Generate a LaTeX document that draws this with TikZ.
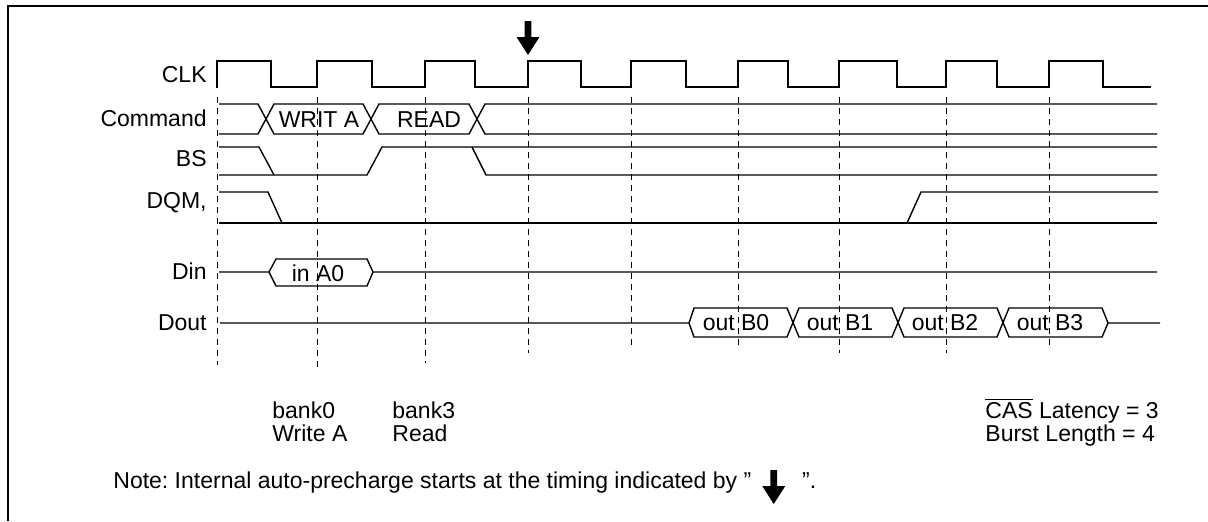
\documentclass[tikz,border=0pt]{standalone}
\usepackage{fontspec}
\setmainfont{Liberation Sans}
\usetikzlibrary{calc,positioning}
\definecolor{fg}{HTML}{000000}
\definecolor{bg}{HTML}{FFFFFF}
\tikzset{
  wave/.style={draw=fg, line width=0.7pt, line join=miter},
  tick/.style={draw=fg, line width=0.5pt, dash pattern=on 3pt off 2.5pt},
  lbl/.style={inner sep=0pt, text=fg, font=\fontsize{11.5}{13.8}\selectfont\frenchspacing},
  prechg/.pic={\fill[fg] (-3.3,0) -- (3.3,0) -- (3.3,16) -- (11.5,16) -- (0,34) -- (-11.5,16) -- (-3.3,16) -- cycle;}
}

\begin{document}
\begin{tikzpicture}[x=0.5pt, y=-0.5pt]
  \useasboundingbox[fill=bg] (0,0) rectangle (1208,521);
  \draw[draw=fg, line width=1.3pt] (8,521) -- (8,6) -- (1208,6);

  % signal names
  \node[lbl, anchor=base east] (nclk) at (207,82)  {CLK};
  \node[lbl, anchor=base east] (ncmd) at (207,126) {Command};
  \node[lbl, anchor=base east] (nbs)  at (207,166) {BS};
  \node[lbl, anchor=base east] (ndqm) at (207,208) {DQM,};
  \node[lbl, anchor=base east] (ndin) at (207,279) {Din};
  \node[lbl, anchor=base east] (ndout) at (207,330) {Dout};

  % clock edges
  \draw[tick] (217,97) -- (217,365);
  \draw[tick] (317,97) -- (317,370);
  \draw[tick] (425,97) -- (425,363);
  \draw[tick] (528,97) -- (528,353);
  \draw[tick] (631,97) -- (631,350);
  \draw[tick] (738,97) -- (738,350);
  \draw[tick] (839,97) -- (839,353);
  \draw[tick] (946,97) -- (946,353);
  \draw[tick] (1049,97) -- (1049,350);

  \pic at (528,21) {prechg};

  % CLK
  \draw[wave] (217,88) -- (217,61) -- (271,61) -- (271,87) -- (317,87) -- (317,61) -- (372,61) -- (372,87)
    -- (425,87) -- (425,61) -- (475,61) -- (475,87) -- (528,87) -- (528,61) -- (581,61) -- (581,87)
    -- (631,87) -- (631,61) -- (686,61) -- (686,87) -- (738,87) -- (738,61) -- (788,61) -- (788,87)
    -- (839,87) -- (839,61) -- (897,61) -- (897,87) -- (946,87) -- (946,61) -- (997,61) -- (997,87)
    -- (1049,87) -- (1049,61) -- (1103,61) -- (1103,87) -- (1151,87);

  % Command
  \draw[wave] (219,104) -- (258,104) -- (274,134) -- (363,134) -- (379,104) -- (469,104) -- (485,134) -- (1157,134);
  \draw[wave] (219,134) -- (258,134) -- (274,104) -- (363,104) -- (379,134) -- (469,134) -- (485,104) -- (1157,104);
  \node[lbl, anchor=base] (cwrite) at (319,127) {WRIT A};
  \node[lbl, anchor=base] (cread)  at (429,127) {READ};

  % BS
  \draw[wave] (219,147) -- (259,147) -- (274,175);
  \draw[wave] (219,175) -- (367,175) -- (382,147) -- (1157,147);
  \draw[wave] (472,147) -- (486,175) -- (1157,175);

  % DQM
  \draw[wave] (219,192) -- (268,192) -- (282,223);
  \draw[wave] (219,223) -- (1157,223);
  \draw[wave] (907,223) -- (921,192) -- (1158,192);

  % Din
  \draw[wave] (219,272) -- (269,272) -- (276,259) -- (367,259) -- (373,272) -- (1157,272);
  \draw[wave] (269,272) -- (276,286) -- (367,286) -- (373,272);
  \node[lbl, anchor=base] (din0) at (318,281) {in A0};

  % Dout
  \draw[wave] (220,323) -- (689,323) -- (694,308) -- (787,308) -- (799,337) -- (892,337) -- (904,308)
    -- (997,308) -- (1009,337) -- (1102,337) -- (1108,323) -- (1160,323);
  \draw[wave] (689,323) -- (694,337) -- (787,337) -- (799,308) -- (892,308) -- (904,337)
    -- (997,337) -- (1009,308) -- (1102,308) -- (1108,323);
  \node[lbl, anchor=base] (dout0) at (736,330) {out B0};
  \node[lbl, anchor=base] (dout1) at (840,330) {out B1};
  \node[lbl, anchor=base] (dout2) at (945,330) {out B2};
  \node[lbl, anchor=base] (dout3) at (1050,330) {out B3};

  % notes
  \node[lbl, anchor=base west] (bank0) at (272,418) {bank0};
  \node[lbl, anchor=base west] (wra)   at (272,441) {Write A};
  \node[lbl, anchor=base west] (bank3) at (392,418) {bank3};
  \node[lbl, anchor=base west] (rdb)   at (392,441) {Read};
  \node[lbl, anchor=base west] (cas)   at (985,418) {$\overline{\hbox{CAS}}$ Latency = 3};
  \node[lbl, anchor=base west] (burst) at (985,441) {Burst Length = 4};

  \node[lbl, anchor=base west] (note) at (113,488) {Note: Internal auto-precharge starts at the timing indicated by \symbol{34}};
  \pic at ($(note.base east)+(22,-18)$) {prechg};
  \node[lbl, anchor=base west] (noteend) at ($(note.base east)+(50,0)$) {\symbol{34}.};
\end{tikzpicture}
\end{document}
